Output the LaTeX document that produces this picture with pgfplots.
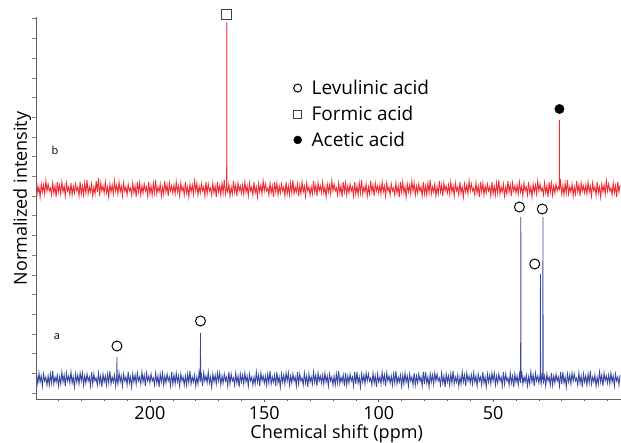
\documentclass[border=0pt]{standalone}
\usepackage{pgfplots}
\pgfplotsset{compat=1.18}
\usepackage{fontspec}
\setmainfont{Open Sans}
\definecolor{specred}{RGB}{235,45,50}
\definecolor{specblue}{RGB}{55,70,160}
\definecolor{axgray}{RGB}{95,95,95}
\begin{document}
\begin{tikzpicture}
\useasboundingbox (0,0) rectangle (621pt,443pt);
\begin{axis}[
  at={(36pt,44pt)}, anchor=south west,
  scale only axis, width=585pt, height=382pt,
  x dir=reverse, xmin=-5.9, xmax=249.8, ymin=0, ymax=382,
  axis x line*=bottom, axis y line*=left,
  axis line style={axgray, line width=0.8pt},
  every tick/.style={axgray, line width=0.6pt},
  tick align=outside,
  major tick length=3.5pt, minor tick length=2.5pt,
  xtick={50,100,150,200},
  minor xtick={0,10,...,240},
  ytick={6,25.7,45.4,65.1,84.8,104.5,124.2,143.9,163.6,183.3,203,222.7,242.4,262.1,281.8,301.5,321.2,340.9,360.6,380.3},
  yticklabels={},
  ytick style={axgray!80, line width=0.5pt},
  /pgf/number format/assume math mode=true,
  ticklabel style={font=\fontsize{18}{20}\selectfont, text=black},
  xlabel={Chemical shift (ppm)},
  ylabel={Normalized intensity},
  label style={font=\fontsize{18}{20}\selectfont},
  xlabel style={at={(axis description cs:0.514,0)}, anchor=base, yshift=-40pt},
  ylabel style={at={(axis description cs:-0.0154,0.525)}, anchor=base},
  clip=false,
  legend style={draw=none, fill=none, at={(axis cs:137.25,285)}, anchor=west,
    font=\fontsize{19}{22}\selectfont, row sep=6pt, column sep=8pt, inner sep=0pt},
  legend image post style={mark size=4pt},
  legend cell align=left,
]
% spectrum a (blue)
\addplot[specblue, line width=0.9pt, forget plot] coordinates {
(249.5,24)(249,15)(248.5,26)(248,17)(247.5,23)(247,13)(246.5,25)(246,18)(245.5,22)(245,14)
(244.5,23)(244,14)(243.5,25)(243,16)(242.5,28)(242,15)(241.5,22)(241,17)(240.5,24)(240,13)
(239.5,22)(239,15)(238.5,27)(238,17)(237.5,24)(237,13)(236.5,26)(236,18)(235.5,23)(235,16)
(234.5,27)(234,16)(233.5,22)(233,12)(232.5,25)(232,17)(231.5,24)(231,15)(230.5,26)(230,18)
(229.5,26)(229,14)(228.5,23)(228,16)(227.5,25)(227,18)(226.5,22)(226,13)(225.5,27)(225,15)
(224.5,25)(224,18)(223.5,21)(223,14)(222.5,26)(222,16)(221.5,23)(221,12)(220.5,25)(220,17)
(219.5,23)(219,14)(218.5,25)(218,16)(217.5,28)(217,15)(216.5,22)(216,17)(215.5,24)(215,13)
(214.5,24)(214.45,20)(214.4,42)(214.35,20)(214,15)(213.5,26)(213,17)(212.5,23)(212,13)(211.5,25)(211,18)(210.5,22)(210,14)
(209.5,27)(209,16)(208.5,22)(208,12)(207.5,25)(207,17)(206.5,24)(206,15)(205.5,26)(205,18)
(204.5,22)(204,15)(203.5,27)(203,17)(202.5,24)(202,13)(201.5,26)(201,18)(200.5,23)(200,16)
(199.5,25)(199,18)(198.5,21)(198,14)(197.5,26)(197,16)(196.5,23)(196,12)(195.5,25)(195,17)
(194.5,26)(194,14)(193.5,23)(193,16)(192.5,25)(192,18)(191.5,22)(191,13)(190.5,27)(190,15)
(189.5,24)(189,15)(188.5,26)(188,17)(187.5,23)(187,13)(186.5,25)(186,18)(185.5,22)(185,14)
(184.5,23)(184,14)(183.5,25)(183,16)(182.5,28)(182,15)(181.5,22)(181,17)(180.5,24)(180,13)
(179.5,22)(179,15)(178.5,27)(178,17)(177.95,20)(177.9,66)(177.85,20)(177.5,24)(177,13)(176.5,26)(176,18)(175.5,23)(175,16)
(174.5,27)(174,16)(173.5,22)(173,12)(172.5,25)(172,17)(171.5,24)(171,15)(170.5,26)(170,18)
(169.5,26)(169,14)(168.5,23)(168,16)(167.5,25)(167,18)(166.5,22)(166,13)(165.5,27)(165,15)
(164.5,25)(164,18)(163.5,21)(163,14)(162.5,26)(162,16)(161.5,23)(161,12)(160.5,25)(160,17)
(159.5,24)(159,15)(158.5,26)(158,17)(157.5,23)(157,13)(156.5,25)(156,18)(155.5,22)(155,14)
(154.5,22)(154,15)(153.5,27)(153,17)(152.5,24)(152,13)(151.5,26)(151,18)(150.5,23)(150,16)
(149.5,23)(149,14)(148.5,25)(148,16)(147.5,28)(147,15)(146.5,22)(146,17)(145.5,24)(145,13)
(144.5,27)(144,16)(143.5,22)(143,12)(142.5,25)(142,17)(141.5,24)(141,15)(140.5,26)(140,18)
(139.5,26)(139,14)(138.5,23)(138,16)(137.5,25)(137,18)(136.5,22)(136,13)(135.5,27)(135,15)
(134.5,25)(134,18)(133.5,21)(133,14)(132.5,26)(132,16)(131.5,23)(131,12)(130.5,25)(130,17)
(129.5,22)(129,15)(128.5,27)(128,17)(127.5,24)(127,13)(126.5,26)(126,18)(125.5,23)(125,16)
(124.5,24)(124,15)(123.5,26)(123,17)(122.5,23)(122,13)(121.5,25)(121,18)(120.5,22)(120,14)
(119.5,23)(119,14)(118.5,25)(118,16)(117.5,28)(117,15)(116.5,22)(116,17)(115.5,24)(115,13)
(114.5,26)(114,14)(113.5,23)(113,16)(112.5,25)(112,18)(111.5,22)(111,13)(110.5,27)(110,15)
(109.5,27)(109,16)(108.5,22)(108,12)(107.5,25)(107,17)(106.5,24)(106,15)(105.5,26)(105,18)
(104.5,25)(104,18)(103.5,21)(103,14)(102.5,26)(102,16)(101.5,23)(101,12)(100.5,25)(100,17)
(99.5,22)(99,15)(98.5,27)(98,17)(97.5,24)(97,13)(96.5,26)(96,18)(95.5,23)(95,16)
(94.5,23)(94,14)(93.5,25)(93,16)(92.5,28)(92,15)(91.5,22)(91,17)(90.5,24)(90,13)
(89.5,24)(89,15)(88.5,26)(88,17)(87.5,23)(87,13)(86.5,25)(86,18)(85.5,22)(85,14)
(84.5,26)(84,14)(83.5,23)(83,16)(82.5,25)(82,18)(81.5,22)(81,13)(80.5,27)(80,15)
(79.5,27)(79,16)(78.5,22)(78,12)(77.5,25)(77,17)(76.5,24)(76,15)(75.5,26)(75,18)
(74.5,25)(74,18)(73.5,21)(73,14)(72.5,26)(72,16)(71.5,23)(71,12)(70.5,25)(70,17)
(69.5,23)(69,14)(68.5,25)(68,16)(67.5,28)(67,15)(66.5,22)(66,17)(65.5,24)(65,13)
(64.5,22)(64,15)(63.5,27)(63,17)(62.5,24)(62,13)(61.5,26)(61,18)(60.5,23)(60,16)
(59.5,24)(59,15)(58.5,26)(58,17)(57.5,23)(57,13)(56.5,25)(56,18)(55.5,22)(55,14)
(54.5,27)(54,16)(53.5,22)(53,12)(52.5,25)(52,17)(51.5,24)(51,15)(50.5,26)(50,18)
(49.5,26)(49,14)(48.5,23)(48,16)(47.5,25)(47,18)(46.5,22)(46,13)(45.5,27)(45,15)
(44.5,25)(44,18)(43.5,21)(43,14)(42.5,26)(42,16)(41.5,23)(41,12)(40.5,25)(40,17)
(39.5,23)(39,14)(38.5,25)(38,16)(37.95,20)(37.9,182)(37.85,20)(37.5,28)(37,15)(36.5,22)(36,17)(35.5,24)(35,13)
(34.5,22)(34,15)(33.5,27)(33,17)(32.5,24)(32,13)(31.5,26)(31,18)(30.5,23)(30,16)
(29.5,24)(29.35,20)(29.3,125)(29.25,20)(29,15)(28.5,26)(28.25,20)(28.2,182)(28.15,20)(28,17)(27.5,23)(27,13)(26.5,25)(26,18)(25.5,22)(25,14)
(24.5,26)(24,14)(23.5,23)(23,16)(22.5,25)(22,18)(21.5,22)(21,13)(20.5,27)(20,15)
(19.5,27)(19,16)(18.5,22)(18,12)(17.5,25)(17,17)(16.5,24)(16,15)(15.5,26)(15,18)
(14.5,25)(14,18)(13.5,21)(13,14)(12.5,26)(12,16)(11.5,23)(11,12)(10.5,25)(10,17)
(9.5,23)(9,14)(8.5,25)(8,16)(7.5,28)(7,15)(6.5,22)(6,17)(5.5,24)(5,13)
(4.5,22)(4,15)(3.5,27)(3,17)(2.5,24)(2,13)(1.5,26)(1,18)(0.5,23)(0,16)
(-0.5,24)(-1,15)(-1.5,26)(-2,17)(-2.5,23)(-3,13)(-3.5,25)(-4,18)(-4.5,22)(-5,14)
(-5.5,24)
};
% spectrum b (red)
\addplot[specred, line width=0.9pt, forget plot] coordinates {
(249.5,217)(249,206)(248.5,212)(248,202)(247.5,215)(247,207)(246.5,214)(246,205)(245.5,218)(245,208)
(244.5,215)(244,208)(243.5,211)(243,204)(242.5,216)(242,206)(241.5,213)(241,202)(240.5,217)(240,207)
(239.5,214)(239,205)(238.5,217)(238,207)(237.5,213)(237,203)(236.5,216)(236,208)(235.5,212)(235,204)
(234.5,216)(234,204)(233.5,213)(233,206)(232.5,215)(232,208)(231.5,212)(231,203)(230.5,217)(230,205)
(229.5,213)(229,204)(228.5,216)(228,206)(227.5,219)(227,205)(226.5,212)(226,207)(225.5,215)(225,203)
(224.5,212)(224,205)(223.5,218)(223,207)(222.5,221)(222,203)(221.5,216)(221,208)(220.5,213)(220,206)
(219.5,217)(219,206)(218.5,212)(218,202)(217.5,215)(217,207)(216.5,214)(216,205)(215.5,218)(215,208)
(214.5,214)(214,205)(213.5,217)(213,207)(212.5,213)(212,203)(211.5,216)(211,208)(210.5,212)(210,204)
(209.5,215)(209,208)(208.5,211)(208,204)(207.5,216)(207,206)(206.5,213)(206,202)(205.5,217)(205,207)
(204.5,216)(204,204)(203.5,213)(203,206)(202.5,215)(202,208)(201.5,212)(201,203)(200.5,217)(200,205)
(199.5,213)(199,204)(198.5,216)(198,206)(197.5,219)(197,205)(196.5,212)(196,207)(195.5,215)(195,203)
(194.5,212)(194,205)(193.5,218)(193,207)(192.5,214)(192,203)(191.5,216)(191,208)(190.5,213)(190,206)
(189.5,214)(189,205)(188.5,217)(188,207)(187.5,213)(187,203)(186.5,216)(186,208)(185.5,212)(185,204)
(184.5,217)(184,206)(183.5,212)(183,202)(182.5,215)(182,207)(181.5,214)(181,205)(180.5,218)(180,208)
(179.5,216)(179,204)(178.5,213)(178,206)(177.5,215)(177,208)(176.5,212)(176,203)(175.5,217)(175,205)
(174.5,215)(174,208)(173.5,211)(173,204)(172.5,216)(172,206)(171.5,213)(171,202)(170.5,217)(170,207)
(169.5,213)(169,204)(168.5,216)(168,206)(167.5,219)(167,205)(166.5,212)(166.45,210)(166.4,377)(166.35,210)(166,207)(165.5,215)(165,203)
(164.5,212)(164,205)(163.5,218)(163,207)(162.5,214)(162,203)(161.5,216)(161,208)(160.5,213)(160,206)
(159.5,214)(159,205)(158.5,217)(158,207)(157.5,213)(157,203)(156.5,216)(156,208)(155.5,212)(155,204)
(154.5,217)(154,206)(153.5,212)(153,202)(152.5,215)(152,207)(151.5,214)(151,205)(150.5,218)(150,208)
(149.5,215)(149,208)(148.5,211)(148,204)(147.5,216)(147,206)(146.5,213)(146,202)(145.5,217)(145,207)
(144.5,216)(144,204)(143.5,213)(143,206)(142.5,215)(142,208)(141.5,212)(141,203)(140.5,217)(140,205)
(139.5,213)(139,204)(138.5,216)(138,206)(137.5,219)(137,205)(136.5,212)(136,207)(135.5,215)(135,203)
(134.5,214)(134,205)(133.5,217)(133,207)(132.5,213)(132,203)(131.5,216)(131,208)(130.5,212)(130,204)
(129.5,212)(129,205)(128.5,218)(128,207)(127.5,214)(127,203)(126.5,216)(126,208)(125.5,213)(125,206)
(124.5,217)(124,206)(123.5,212)(123,202)(122.5,215)(122,207)(121.5,214)(121,205)(120.5,218)(120,208)
(119.5,215)(119,208)(118.5,211)(118,204)(117.5,216)(117,206)(116.5,213)(116,202)(115.5,217)(115,207)
(114.5,216)(114,204)(113.5,213)(113,206)(112.5,215)(112,208)(111.5,212)(111,203)(110.5,217)(110,205)
(109.5,213)(109,204)(108.5,216)(108,206)(107.5,219)(107,205)(106.5,212)(106,207)(105.5,215)(105,203)
(104.5,212)(104,205)(103.5,218)(103,207)(102.5,214)(102,203)(101.5,216)(101,208)(100.5,213)(100,206)
(99.5,214)(99,205)(98.5,217)(98,207)(97.5,213)(97,203)(96.5,216)(96,208)(95.5,212)(95,204)
(94.5,215)(94,208)(93.5,211)(93,204)(92.5,216)(92,206)(91.5,213)(91,202)(90.5,217)(90,207)
(89.5,217)(89,206)(88.5,212)(88,202)(87.5,215)(87,207)(86.5,214)(86,205)(85.5,218)(85,208)
(84.5,216)(84,204)(83.5,213)(83,206)(82.5,215)(82,208)(81.5,212)(81,203)(80.5,217)(80,205)
(79.5,213)(79,204)(78.5,216)(78,206)(77.5,219)(77,205)(76.5,212)(76,207)(75.5,215)(75,203)
(74.5,212)(74,205)(73.5,218)(73,207)(72.5,214)(72,203)(71.5,216)(71,208)(70.5,213)(70,206)
(69.5,214)(69,205)(68.5,217)(68,207)(67.5,213)(67,203)(66.5,216)(66,208)(65.5,212)(65,204)
(64.5,217)(64,206)(63.5,212)(63,202)(62.5,215)(62,207)(61.5,214)(61,205)(60.5,218)(60,208)
(59.5,215)(59,208)(58.5,211)(58,204)(57.5,216)(57,206)(56.5,213)(56,202)(55.5,217)(55,207)
(54.5,216)(54,204)(53.5,213)(53,206)(52.5,215)(52,208)(51.5,212)(51,203)(50.5,217)(50,205)
(49.5,213)(49,204)(48.5,216)(48,206)(47.5,219)(47,205)(46.5,212)(46,207)(45.5,215)(45,203)
(44.5,212)(44,205)(43.5,218)(43,207)(42.5,214)(42,203)(41.5,216)(41,208)(40.5,213)(40,206)
(39.5,214)(39,205)(38.5,217)(38,207)(37.5,213)(37,203)(36.5,216)(36,208)(35.5,212)(35,204)
(34.5,217)(34,206)(33.5,212)(33,202)(32.5,215)(32,207)(31.5,214)(31,205)(30.5,218)(30,208)
(29.5,215)(29,208)(28.5,211)(28,204)(27.5,216)(27,206)(26.5,213)(26,202)(25.5,217)(25,207)
(24.5,216)(24,204)(23.5,213)(23,206)(22.5,215)(22,208)(21.5,212)(21.05,210)(21,279)(20.95,210)(20.5,217)(20,205)
(19.5,213)(19,204)(18.5,216)(18,206)(17.5,219)(17,205)(16.5,212)(16,207)(15.5,215)(15,203)
(14.5,212)(14,205)(13.5,218)(13,207)(12.5,214)(12,203)(11.5,216)(11,208)(10.5,213)(10,206)
(9.5,214)(9,205)(8.5,217)(8,207)(7.5,213)(7,203)(6.5,216)(6,208)(5.5,212)(5,204)
(4.5,217)(4,206)(3.5,212)(3,202)(2.5,215)(2,207)(1.5,214)(1,205)(0.5,218)(0,208)
(-0.5,215)(-1,208)(-1.5,211)(-2,204)(-2.5,216)(-3,206)(-3.5,213)(-4,202)(-4.5,217)(-5,207)
(-5.5,214)
};
% peak markers
\addplot[only marks, mark=o, mark size=5pt, mark options={line width=1pt, black}]
  coordinates {(214.4,53)(177.9,78)(38.5,192)(31.8,135)(28.5,190)};
\addlegendentry{Levulinic acid}
\addplot[only marks, mark=square, mark size=5pt, mark options={line width=0.8pt, black!75}]
  coordinates {(166.4,385)};
\addlegendentry{Formic acid}
\addplot[only marks, mark=*, mark size=4.7pt, mark options={black, fill=black}]
  coordinates {(21,290)};
\addlegendentry{Acetic acid}
\node[font=\fontsize{11}{13}\selectfont] at (axis cs:241.5,249) {b};
\node[font=\fontsize{11}{13}\selectfont] at (axis cs:240.6,62) {a};
\end{axis}
\end{tikzpicture}
\end{document}
